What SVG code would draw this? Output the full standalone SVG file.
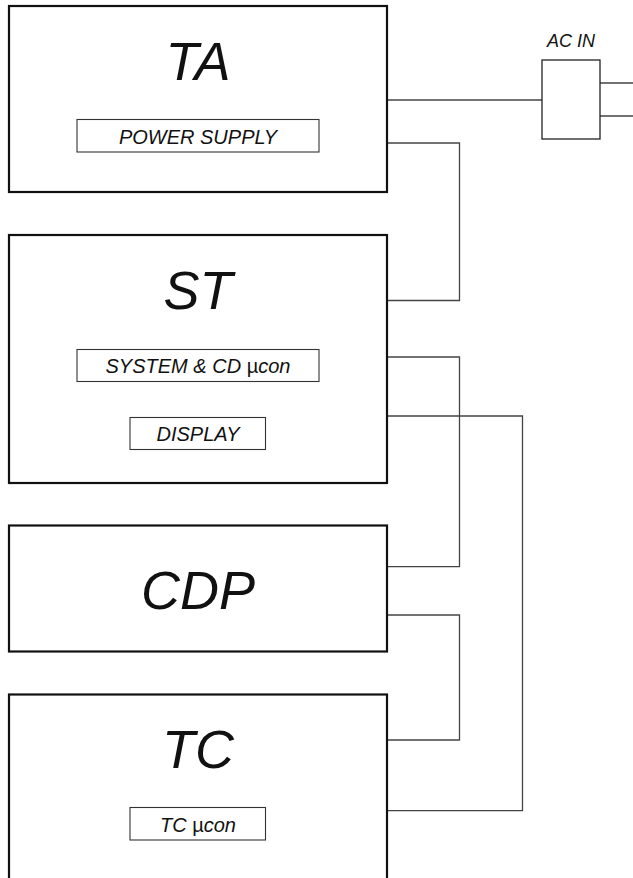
<svg xmlns="http://www.w3.org/2000/svg" width="633" height="878" viewBox="0 0 633 878">
<style>
.blk{fill:#fff;stroke:#111;stroke-width:2.2}
.sub{fill:#fff;stroke:#333;stroke-width:1.1}
.big{font-family:"Liberation Sans",Arial,sans-serif;font-style:italic;font-size:54px;fill:#111;text-anchor:middle}
.lbl{font-family:"Liberation Sans",Arial,sans-serif;font-style:italic;font-size:20px;fill:#111;text-anchor:middle}
.mu{font-style:normal}
.wire{fill:none;stroke:#444;stroke-width:1.3}
</style>
<rect width="633" height="878" fill="#fff"/>
<g id="connectors">
<path class="wire" d="M387,100 H542"/>
<path class="wire" d="M600,83 H633 M600,116 H633"/>
<path class="wire" d="M387,143 H459.5 V300.5 H387"/>
<path class="wire" d="M387,357 H459.5 V566.7 H387"/>
<path class="wire" d="M387,615 H459.5 V740 H387"/>
<path class="wire" d="M387,416 H522.5 V810.7 H387"/>
</g>
<g id="acin">
<rect x="542" y="60" width="58" height="79" fill="#fff" stroke="#222" stroke-width="1.3"/>
<text class="lbl" x="571" y="47" style="font-size:18px">AC IN</text>
</g>
<g id="TA">
<rect class="blk" x="9" y="6" width="378" height="186"/>
<text class="big" x="198" y="80">TA</text>
<rect class="sub" x="77" y="119.5" width="242" height="32.5"/>
<text class="lbl" x="198" y="144">POWER SUPPLY</text>
</g>
<g id="ST">
<rect class="blk" x="9" y="235" width="378" height="248"/>
<text class="big" x="198" y="309">ST</text>
<rect class="sub" x="77" y="349.5" width="242" height="32"/>
<text class="lbl" x="198" y="373">SYSTEM &amp; CD <tspan class="mu">µ</tspan>con</text>
<rect class="sub" x="130" y="417.5" width="135.5" height="32"/>
<text class="lbl" x="198" y="441">DISPLAY</text>
</g>
<g id="CDP">
<rect class="blk" x="9" y="525.5" width="378" height="126"/>
<text class="big" x="198" y="609">CDP</text>
</g>
<g id="TC">
<rect class="blk" x="9" y="694.5" width="378" height="200"/>
<text class="big" x="198" y="768">TC</text>
<rect class="sub" x="130" y="807.5" width="135.5" height="32.5"/>
<text class="lbl" x="198" y="832">TC <tspan class="mu">µ</tspan>con</text>
</g>
</svg>
